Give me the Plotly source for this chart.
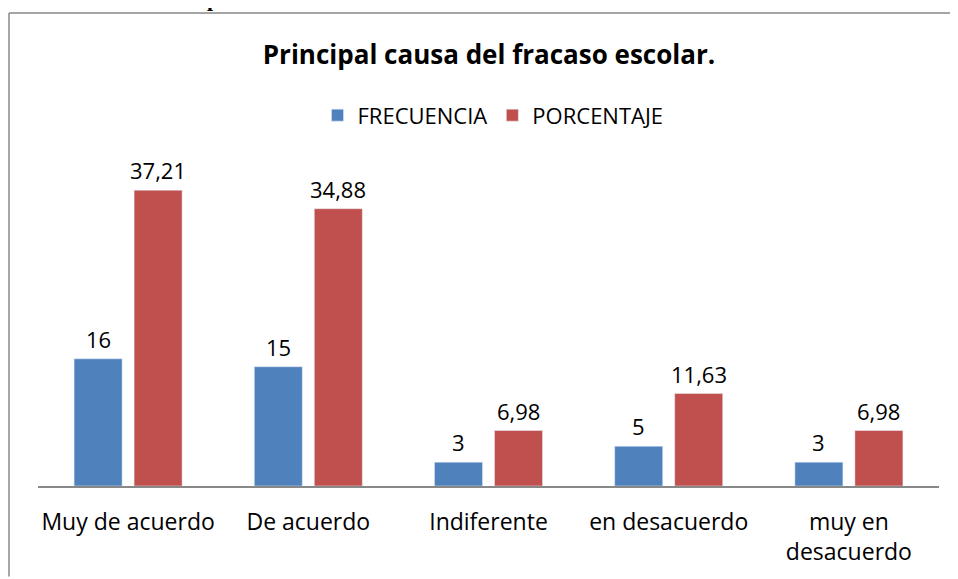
import plotly.graph_objects as go

categorias = ["Muy de acuerdo", "De acuerdo", "Indiferente", "en desacuerdo", "muy en<br>desacuerdo"]
frecuencia = [16, 15, 3, 5, 3]
porcentaje = [37.21, 34.88, 6.98, 11.63, 6.98]
etiq_frec = ["16", "15", "3", "5", "3"]
etiq_porc = ["37,21", "34,88", "6,98", "11,63", "6,98"]

FONT = "Open Sans"
AZUL = "#4F81BD"
ROJO = "#C0504D"

# the page adds an 8 px body margin, so work in screen px and shift back
OFF = 8
W, H = 958 - OFF, 579 - OFF
L, R = 38 - OFF, 958 - 939
T, B = 168 - OFF, 579 - 488
pw, ph = W - L - R, H - T - B

def px(xs):
    return (xs - OFF - L) / pw

def py(ys):
    return (H - B - (ys - OFF)) / ph

fig = go.Figure()
fig.add_trace(go.Bar(name="FRECUENCIA", x=categorias, y=frecuencia, marker_color=AZUL))
fig.add_trace(go.Bar(name="PORCENTAJE", x=categorias, y=porcentaje, marker_color=ROJO))

# data labels above each bar
for cat, v, t in zip(categorias, frecuencia, etiq_frec):
    fig.add_annotation(x=cat, y=v, text=t, showarrow=False, xshift=-30, yshift=20,
                       yanchor="middle", font=dict(size=22, family=FONT, color="#000000"))
for cat, v, t in zip(categorias, porcentaje, etiq_porc):
    fig.add_annotation(x=cat, y=v, text=t, showarrow=False, xshift=30, yshift=20,
                       yanchor="middle", font=dict(size=22, family=FONT, color="#000000"))

fig.update_layout(
    width=W, height=H,
    margin=dict(l=L, r=R, t=T, b=B),
    paper_bgcolor="white", plot_bgcolor="white",
    font=dict(family=FONT, size=21, color="#000000"),
    barmode="group", bargap=0.334, bargroupgap=0.2,
    title=dict(text="<b>Principal causa del fracaso escolar.</b>",
               x=px(489), xref="paper", xanchor="center",
               y=1 - (55 - OFF) / H, yanchor="middle",
               font=dict(size=26, family=FONT, color="#000000")),
    legend=dict(orientation="h", x=px(493), xanchor="center",
                y=py(115), yanchor="middle",
                font=dict(size=22, family=FONT), traceorder="normal"),
    showlegend=True,
)
fig.update_xaxes(showline=True, linecolor="#888888", linewidth=2,
                 ticks="", ticklabelstandoff=14, showgrid=False,
                 tickfont=dict(size=23, family=FONT))
fig.update_yaxes(range=[0, 40], visible=False, showgrid=False)

# frame of the chart box (partly cut off by the page)
fig.add_shape(type="line", xref="paper", yref="paper",
              x0=px(9), x1=px(9), y0=py(12), y1=py(579),
              line=dict(color="#888888", width=1.5))
fig.add_shape(type="line", xref="paper", yref="paper",
              x0=px(9), x1=px(958), y0=py(12), y1=py(12),
              line=dict(color="#888888", width=1.5))
# descender of the document caption above the chart
fig.add_annotation(text="<b>p</b>", xref="paper", yref="paper",
                   x=px(213), y=py(-3), showarrow=False,
                   xanchor="center", yanchor="middle",
                   font=dict(family="Liberation Serif", size=22, color="#000000"))

fig.write_html("out.html")
